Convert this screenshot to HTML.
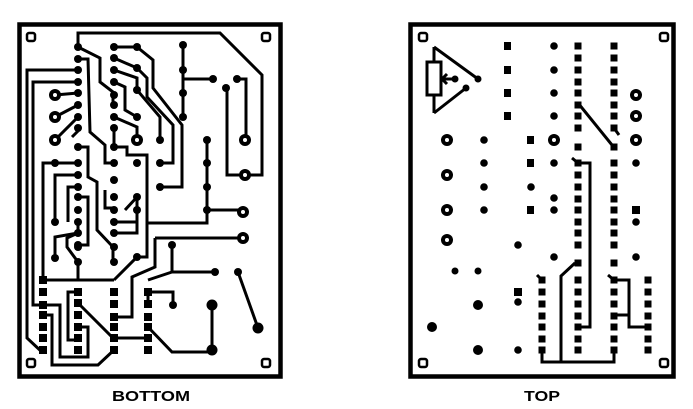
<!DOCTYPE html>
<html><head><style>body{margin:0;background:#fff}svg{display:block}</style></head><body>
<svg width="693" height="409" viewBox="0 0 693 409" xmlns="http://www.w3.org/2000/svg">
<g fill="none" stroke="#000" stroke-width="4.5">
<rect x="19.5" y="24.5" width="261" height="352"/>
<rect x="410.5" y="24.5" width="263" height="352"/>
</g>
<g fill="none" stroke="#000" stroke-width="2.5">
<rect x="27" y="33" width="8" height="8" rx="2"/><rect x="262" y="33" width="8" height="8" rx="2"/>
<rect x="27" y="359" width="8" height="8" rx="2"/><rect x="262" y="359" width="8" height="8" rx="2"/>
<rect x="419" y="33" width="8" height="8" rx="2"/><rect x="660" y="33" width="8" height="8" rx="2"/>
<rect x="419" y="359" width="8" height="8" rx="2"/><rect x="660" y="359" width="8" height="8" rx="2"/>
</g>
<g fill="none" stroke="#000" stroke-width="3" stroke-linejoin="miter">
<polyline points="78,47 78,33 220,33 262,75 262,175 227,175 227,88"/>
<polyline points="78,47 100,58 100,82 113,92 113,107"/>
<polyline points="78,59 88,59 90,132 105,145 105,163 114,163"/>
<polyline points="114,47 137,47 153,60 153,88 182,125 182,187 160,187"/>
<polyline points="114,58 137,68 147,78 147,97 173,125 173,163 160,163"/>
<polyline points="114,70 137,78 137,90 160,117 160,140"/>
<polyline points="114,82 125,87 125,110 137,117"/>
<polyline points="114,117 137,127 137,138"/>
<polyline points="114,127 114,147 127,147 127,155 147,155 147,223 207,223 207,138"/>
<polyline points="207,210 243,210"/>
<polyline points="183,45 183,118"/><polyline points="183,79 213,79"/>
<polyline points="237,79 246,79 246,140"/>
<polyline points="78,70 27,70 27,338 43,353"/>
<polyline points="78,82 33,82 33,305 43,305"/>
<polyline points="55,163 43,163 43,280 114,280"/>
<polyline points="55,95 78,93"/><polyline points="55,117 78,105"/><polyline points="55,140 78,117"/>
<polyline points="55,163 78,163"/><polyline points="78,175 55,175 55,222"/>
<polyline points="78,187 68,187 68,222"/>
<polyline points="78,131 72,137"/>
<polyline points="78,147 88,147 88,177 97,182 97,230 113,247 113,262"/>
<polyline points="105,190 105,208 114,208"/>
<polyline points="78,197 88,197 88,245 78,245"/>
<polyline points="78,222 78,233 55,237 55,258"/>
<polyline points="78,233 67,238 67,247 78,262 78,280"/>
<polyline points="114,222 137,222 137,197"/>
<polyline points="114,233 137,233 137,210"/>
<polyline points="137,197 125,210"/>
<polyline points="114,280 137,257 147,257 147,223"/>
<polyline points="155,238 243,238"/>
<polyline points="155,238 155,267 132,277 132,317 114,317"/>
<polyline points="172,245 172,272 215,272"/><polyline points="172,272 148,280"/>
<polyline points="148,292 173,292 173,305"/><polyline points="148,292 148,300"/>
<polyline points="148,327 172,352 212,352 212,305"/>
<polyline points="238,272 258,328"/>
<polyline points="78,303 113,338 148,338"/>
<polyline points="78,292 68,292 68,340 78,340"/>
<polyline points="78,327 88,327 88,357 60,357 60,305 43,305"/>
<polyline points="43,315 52,315 52,365 98,365 114,350"/>
<polyline points="434,47 434,113"/>
<rect x="427" y="62" width="14" height="33" fill="#fff"/>
<polyline points="434,47 478,79"/><polyline points="434,113 466,88"/>
<polyline points="441,79 455,79"/><polyline points="447,74 442,79 447,84"/>
<polyline points="578,103 612,145"/><polyline points="614,128 619,135"/>
<polyline points="572,158 578,163 590,163 590,327 578,327"/>
<polyline points="542,350 542,362 614,362 614,350"/>
<polyline points="561,362 561,276 575,263"/>
<polyline points="537,275 542,280"/><polyline points="608,275 614,280"/>
<polyline points="614,280 629,280 629,327 648,327"/><polyline points="614,315 629,315"/>
</g>
<g fill="#000">
<circle cx="78" cy="47" r="4"/><circle cx="78" cy="59" r="4"/><circle cx="78" cy="70" r="4"/><circle cx="78" cy="82" r="4"/><circle cx="78" cy="93" r="4"/><circle cx="78" cy="105" r="4"/><circle cx="78" cy="117" r="4"/><circle cx="78" cy="128" r="4"/><circle cx="78" cy="147" r="4"/><circle cx="78" cy="163" r="4"/><circle cx="78" cy="175" r="4"/><circle cx="78" cy="187" r="4"/><circle cx="78" cy="197" r="4"/><circle cx="78" cy="210" r="4"/><circle cx="78" cy="222" r="4"/><circle cx="78" cy="233" r="4"/><circle cx="78" cy="245" r="4"/><circle cx="78" cy="262" r="4"/>
<circle cx="114" cy="47" r="4"/><circle cx="114" cy="58" r="4"/><circle cx="114" cy="70" r="4"/><circle cx="114" cy="82" r="4"/><circle cx="114" cy="95" r="4"/><circle cx="114" cy="105" r="4"/><circle cx="114" cy="117" r="4"/><circle cx="114" cy="128" r="4"/><circle cx="114" cy="147" r="4"/><circle cx="114" cy="163" r="4"/><circle cx="114" cy="180" r="4"/><circle cx="114" cy="197" r="4"/><circle cx="114" cy="210" r="4"/><circle cx="114" cy="222" r="4"/><circle cx="114" cy="233" r="4"/><circle cx="114" cy="247" r="4"/><circle cx="114" cy="262" r="4"/>
<circle cx="137" cy="47" r="4"/><circle cx="137" cy="68" r="4"/><circle cx="137" cy="90" r="4"/><circle cx="137" cy="117" r="4"/><circle cx="137" cy="163" r="4"/><circle cx="137" cy="197" r="4"/><circle cx="137" cy="210" r="4"/><circle cx="137" cy="257" r="4"/>
<circle cx="160" cy="140" r="4"/><circle cx="160" cy="163" r="4"/><circle cx="160" cy="187" r="4"/>
<circle cx="183" cy="45" r="4"/><circle cx="183" cy="70" r="4"/><circle cx="183" cy="93" r="4"/><circle cx="183" cy="117" r="4"/>
<circle cx="207" cy="140" r="4"/><circle cx="207" cy="163" r="4"/><circle cx="207" cy="187" r="4"/><circle cx="207" cy="210" r="4"/>
<circle cx="213" cy="79" r="4"/><circle cx="237" cy="79" r="4"/><circle cx="226" cy="88" r="4"/>
<circle cx="55" cy="163" r="4"/><circle cx="55" cy="222" r="4"/><circle cx="55" cy="258" r="4"/><circle cx="78" cy="247" r="4"/>
<circle cx="172" cy="245" r="4"/><circle cx="215" cy="272" r="4"/><circle cx="238" cy="272" r="4"/><circle cx="173" cy="305" r="4"/>
<circle cx="212" cy="305" r="5.5"/><circle cx="212" cy="350" r="5.5"/><circle cx="258" cy="328" r="5.5"/>
<rect x="39" y="276" width="8" height="8"/><rect x="39" y="288" width="8" height="8"/><rect x="39" y="301" width="8" height="8"/><rect x="39" y="311" width="8" height="8"/><rect x="39" y="323" width="8" height="8"/><rect x="39" y="334" width="8" height="8"/><rect x="39" y="346" width="8" height="8"/>
<rect x="74" y="288" width="8" height="8"/><rect x="74" y="299" width="8" height="8"/><rect x="74" y="311" width="8" height="8"/><rect x="74" y="323" width="8" height="8"/><rect x="74" y="334" width="8" height="8"/><rect x="74" y="346" width="8" height="8"/>
<rect x="110" y="288" width="8" height="8"/><rect x="110" y="300" width="8" height="8"/><rect x="110" y="313" width="8" height="8"/><rect x="110" y="323" width="8" height="8"/><rect x="110" y="334" width="8" height="8"/><rect x="110" y="346" width="8" height="8"/>
<rect x="144" y="288" width="8" height="8"/><rect x="144" y="300" width="8" height="8"/><rect x="144" y="313" width="8" height="8"/><rect x="144" y="323" width="8" height="8"/><rect x="144" y="334" width="8" height="8"/><rect x="144" y="346" width="8" height="8"/>
</g>
<g fill="#000">
<circle cx="55" cy="95" r="6"/><circle cx="55" cy="117" r="6"/><circle cx="55" cy="140" r="6"/>
<circle cx="137" cy="140" r="6"/><circle cx="245" cy="140" r="6"/><circle cx="245" cy="175" r="6"/><circle cx="243" cy="212" r="6"/><circle cx="243" cy="238" r="6"/>
<circle cx="447" cy="140" r="6"/><circle cx="447" cy="175" r="6"/><circle cx="447" cy="210" r="6"/><circle cx="447" cy="240" r="6"/>
<circle cx="554" cy="140" r="6"/><circle cx="636" cy="95" r="6"/><circle cx="636" cy="116" r="6"/><circle cx="636" cy="140" r="6"/>
</g>
<g fill="#fff">
<circle cx="55" cy="95" r="2"/><circle cx="55" cy="117" r="2"/><circle cx="55" cy="140" r="2"/>
<circle cx="137" cy="140" r="2"/><circle cx="245" cy="140" r="2"/><circle cx="245" cy="175" r="2"/><circle cx="243" cy="212" r="2"/><circle cx="243" cy="238" r="2"/>
<circle cx="447" cy="140" r="2"/><circle cx="447" cy="175" r="2"/><circle cx="447" cy="210" r="2"/><circle cx="447" cy="240" r="2"/>
<circle cx="554" cy="140" r="2"/><circle cx="636" cy="95" r="2"/><circle cx="636" cy="116" r="2"/><circle cx="636" cy="140" r="2"/>
</g>
<g fill="#000">
<rect x="504" y="42" width="7" height="8"/><rect x="504" y="66" width="7" height="8"/><rect x="504" y="89" width="7" height="8"/><rect x="504" y="112" width="7" height="8"/>
<circle cx="554" cy="46" r="3.8"/><circle cx="554" cy="70" r="3.8"/><circle cx="554" cy="93" r="3.8"/><circle cx="554" cy="116" r="3.8"/>
<circle cx="478" cy="79" r="3.5"/><circle cx="466" cy="88" r="3.5"/><circle cx="455" cy="79" r="3.5"/>
<circle cx="484" cy="140" r="3.8"/><circle cx="484" cy="163" r="3.8"/><circle cx="484" cy="187" r="3.8"/><circle cx="484" cy="210" r="3.8"/>
<rect x="527" y="136" width="7" height="8"/><rect x="527" y="159" width="7" height="8"/><circle cx="531" cy="187" r="3.8"/><rect x="527" y="206" width="7" height="8"/>
<circle cx="554" cy="163" r="3.8"/><circle cx="554" cy="198" r="3.8"/><circle cx="554" cy="210" r="3.8"/>
<circle cx="636" cy="163" r="3.8"/><rect x="632" y="206" width="8" height="8"/><circle cx="636" cy="222" r="3.8"/><circle cx="636" cy="257" r="3.8"/>
<circle cx="518" cy="245" r="3.8"/><circle cx="554" cy="257" r="3.8"/><circle cx="455" cy="271" r="3.5"/><circle cx="478" cy="271" r="3.5"/>
<circle cx="478" cy="305" r="5"/><circle cx="432" cy="327" r="5"/><circle cx="478" cy="350" r="5"/>
<rect x="514" y="288" width="8" height="8"/><circle cx="518" cy="302" r="3.8"/><circle cx="518" cy="350" r="3.8"/>
</g>
<g fill="#000" id="cols"></g>
<script>
var g=document.getElementById('cols'),NS='http://www.w3.org/2000/svg';
function sq(x,y){var r=document.createElementNS(NS,'rect');r.setAttribute('x',x-3.5);r.setAttribute('y',y-3.5);r.setAttribute('width',7);r.setAttribute('height',7);g.appendChild(r);}
var ys=[46,58,70,82,93,105,116,128,147,163,175,187,199,210,222,233,245,263,280,292,304,316,327,339,350];
ys.forEach(function(y){sq(578,y);sq(614,y);});
[280,292,304,316,327,339,350].forEach(function(y){sq(542,y);sq(648,y);});
</script>
<g font-family="Liberation Sans, sans-serif" font-weight="bold" font-size="15" text-anchor="middle">
<text x="151" y="401" textLength="78" lengthAdjust="spacingAndGlyphs">BOTTOM</text>
<text x="542" y="401" textLength="36" lengthAdjust="spacingAndGlyphs">TOP</text>
</g>
</svg>
</body></html>
